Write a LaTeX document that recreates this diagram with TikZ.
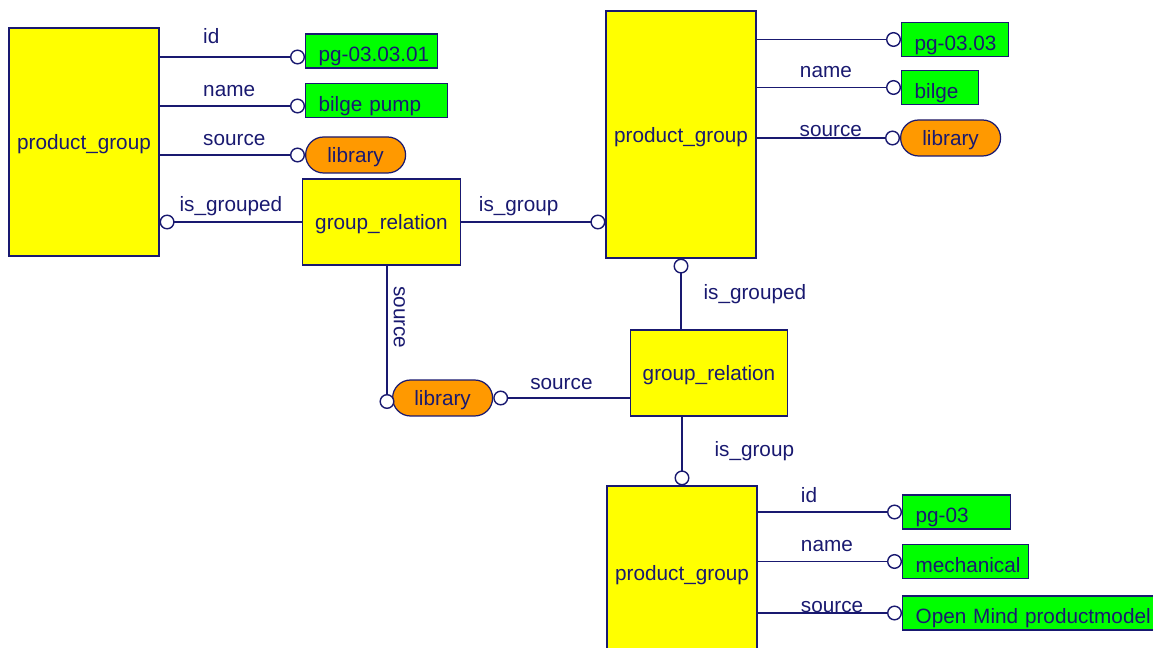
\documentclass[tikz,border=0pt]{standalone}
\usepackage{fontspec}
\setmainfont{Liberation Sans}
\usetikzlibrary{arrows.meta}

\definecolor{ink}{RGB}{25,25,112}
\definecolor{pgyellow}{RGB}{255,255,0}
\definecolor{valgreen}{RGB}{0,255,0}
\definecolor{liborange}{RGB}{255,153,0}

\begin{document}
\begin{tikzpicture}[x=0.02cm, y=-0.02cm,
	every node/.style={font=\fontsize{11.8}{14}\selectfont, text=ink},
	entity/.style={draw=ink, line width=0.7pt, fill=pgyellow, minimum width=3cm, minimum height=#1, inner sep=0pt, text depth=0pt},
	relation/.style={draw=ink, line width=0.7pt, fill=pgyellow, minimum width=3.15cm, minimum height=1.72cm, text depth=0pt},
	value/.style={draw=ink, line width=0.7pt, fill=valgreen, anchor=west, text width=#1, align=left,
		inner xsep=0pt, inner ysep=0pt, text height=0.56cm, text depth=0.12cm,
		execute at begin node={\hspace*{0.26cm}}},
	libref/.style={draw=ink, line width=0.7pt, fill=liborange, anchor=west, rounded corners=0.36cm,
		minimum width=2cm, minimum height=0.72cm, inner ysep=0pt, text depth=0pt},
	link/.style={draw=ink, line width=0.8pt, -{Circle[length=0.3cm, width=0.3cm, fill=white]}},
	lbl/.style={anchor=south west, pos=0.255, yshift=0.06cm}]

	\useasboundingbox (0,0) rectangle (1153,648);
	\clip (0,0) rectangle (1153,648);

	% pg-03.03.01
	\node[entity=4.56cm] (pg1) at (84,142) {product\_group};
	\node[value=2.64cm] (v11) at (305,51) {pg-03.03.01};
	\node[value=2.84cm] (v12) at (305,100.5) {bilge pump};
	\node[libref] (lib1) at (305,155) {library};
	\node[relation] (gr1) at (381.5,222) {group\_relation};

	% pg-03.03
	\node[entity=4.94cm] (pg2) at (681,134.5) {product\_group};
	\node[value=2.14cm] (v21) at (901,39.5) {pg-03.03};
	\node[value=1.54cm] (v22) at (901,87.5) {bilge};
	\node[libref] (lib2) at (900,138) {library};

	\node[relation] (gr2) at (709,373) {group\_relation};
	\node[libref] (lib3) at (392,398) {library};

	% pg-03
	\node[entity=3.48cm] (pg3) at (682,573) {product\_group};
	\node[value=2.16cm] (v31) at (902,512) {pg-03};
	\node[value=2.52cm] (v32) at (902,561.5) {mechanical};
	\node[value=5.2cm] (v33) at (902,613) {Open Mind productmodel};

	\coordinate (v11in) at ([yshift=-0.12cm]v11.west);
	\coordinate (v12in) at ([yshift=-0.11cm]v12.west);
	\coordinate (lib3in) at ([xshift=-0.1cm, yshift=-0.22cm]lib3.west);

	\draw[link] (pg1.east |- v11in) -- node[lbl, yshift=0.08cm] {id} (v11in);
	\draw[link] (pg1.east |- v12in) -- node[lbl] {name} (v12in);
	\draw[link] (pg1.east |- lib1.west) -- node[lbl] {source} (lib1.west);
	\draw[link] (gr1.west) -- node[above] {is\_grouped} (pg1.east |- gr1.west);
	\draw[link] (gr1.east) -- node[above, pos=0.4] {is\_group} (pg2.west |- gr1.east);
	\draw[link] (gr1.south -| lib3in) -- node[sloped, above, pos=0.36] {source} (lib3in);

	\draw[link] (pg2.east |- v21.west) -- (v21.west);
	\draw[link] (pg2.east |- v22.west) -- node[lbl] {name} (v22.west);
	\draw[link] (pg2.east |- lib2.west) -- node[lbl, anchor=base west, yshift=-0.04cm] {source} (lib2.west);
	\draw[link] (pg2.south |- gr2.north) -- node[right, xshift=0.32cm] {is\_grouped} (pg2.south);

	\draw[link] (gr2.west |- lib3.east) -- node[above, yshift=0.04cm] {source} (lib3.east);
	\draw[link] (pg3.north |- gr2.south) -- node[right, xshift=0.52cm] {is\_group} (pg3.north);

	\draw[link] (pg3.east |- v31.west) -- node[lbl] {id} (v31.west);
	\draw[link] (pg3.east |- v32.west) -- node[lbl] {name} (v32.west);
	\draw[link] (pg3.east |- v33.west) -- node[lbl, anchor=base west, yshift=-0.04cm] {source} (v33.west);
\end{tikzpicture}
\end{document}
